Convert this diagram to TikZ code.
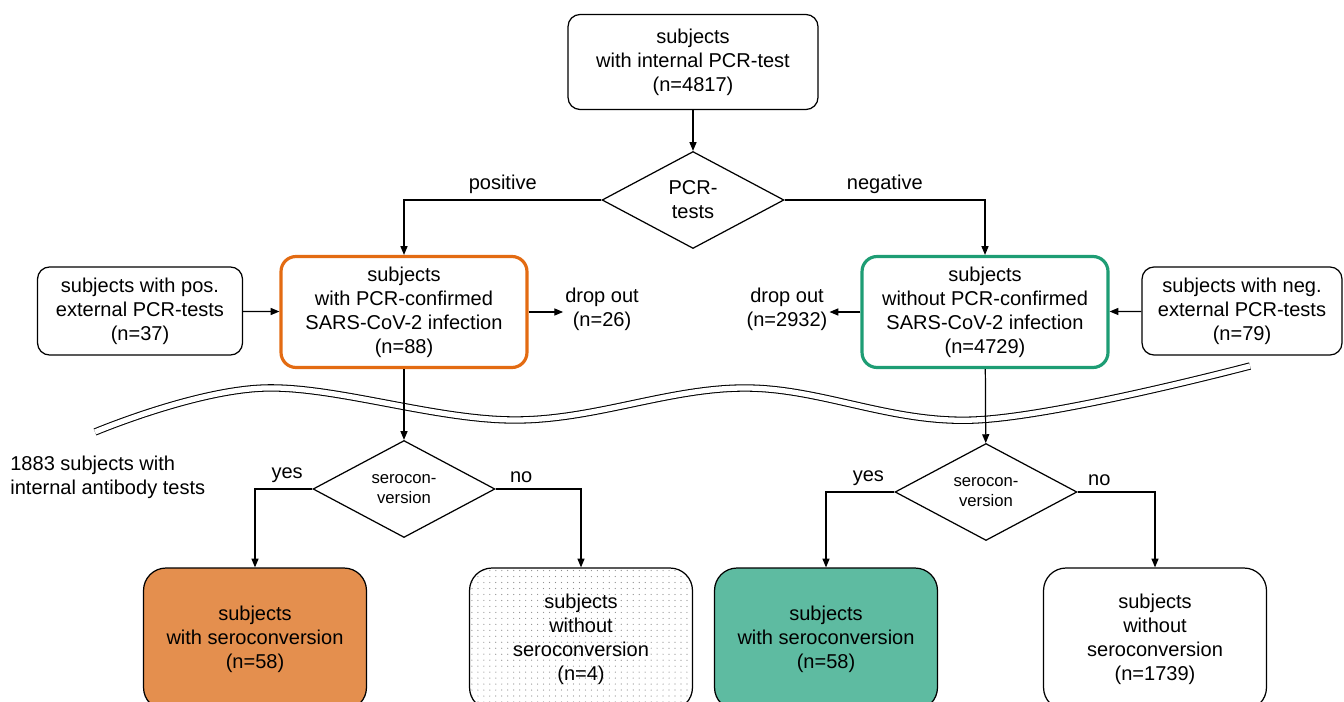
\documentclass[tikz,border=0pt]{standalone}
\usepackage{fontspec}
\setmainfont{Liberation Sans}
\usetikzlibrary{shapes.geometric,arrows.meta,patterns.meta}

\definecolor{orgline}{RGB}{227,107,18}
\definecolor{orgfill}{RGB}{228,143,78}
\definecolor{grnline}{RGB}{30,157,116}
\definecolor{grnfill}{RGB}{94,187,161}

\tikzdeclarepattern{
  name=finedots,
  type=uncolored,
  bounding box={(-1.7pt,-1.7pt) and (1.7pt,1.7pt)},
  tile size={(3.4pt,3.4pt)},
  code={\pgfpathcircle{\pgfpointorigin}{0.35pt}\pgfusepath{fill}}
}

\begin{document}
\begin{tikzpicture}[x=0.02cm, y=-0.02cm,
    font=\fontsize{11.4}{13.7}\selectfont,
    box/.style={draw, align=center, rounded corners=0.24cm, line width=0.7pt, inner sep=0pt},
    cbox/.style={draw, align=center, rounded corners=0.3cm, line width=1.8pt, inner sep=0pt, minimum width=4.92cm, minimum height=2.22cm},
    bbox/.style={draw, align=center, rounded corners=0.45cm, line width=0.7pt, inner sep=0pt, minimum width=4.46cm, minimum height=2.84cm},
    dnode/.style={draw, diamond, align=center, line width=0.7pt, inner sep=0pt, minimum width=3.64cm, minimum height=1.94cm},
    lbl/.style={above},
    arr/.style={-{Triangle[length=5pt,width=4pt]}, line width=0.7pt}]
    \clip (0,0) rectangle (1344,702);

    \node[box, minimum width=5cm, minimum height=1.9cm] (top) at (693,62) {subjects\\with internal PCR-test\\(n=4817)};
    \node[dnode] (pcr) at (693,200) {PCR-\\tests};
    \node[cbox, draw=orgline] (conf) at (404,312) {subjects\\with PCR-confirmed\\SARS-CoV-2 infection\\(n=88)};
    \node[cbox, draw=grnline] (noconf) at (985,312) {subjects\\without PCR-confirmed\\SARS-CoV-2 infection\\(n=4729)};
    \node[box, minimum width=4.1cm, minimum height=1.76cm] (pos) at (140,311) {subjects with pos.\\external PCR-tests\\(n=37)};
    \node[box, minimum width=4cm, minimum height=1.76cm] (neg) at (1242,311) {subjects with neg.\\external PCR-tests\\(n=79)};
    \node[align=center, inner sep=1pt] (drop1) at (602,309) {drop out\\(n=26)};
    \node[align=center, inner sep=1pt] (drop2) at (787,309) {drop out\\(n=2932)};

    \node[anchor=west, align=left, inner sep=0pt] (ab) at (10,477) {1883 subjects with\\internal antibody tests};

    \node[dnode, font=\fontsize{9.5}{11.6}\selectfont] (serL) at (404,489) {serocon-\\version};
    \node[dnode, font=\fontsize{9.5}{11.6}\selectfont] (serR) at (986,492) {serocon-\\version};

    \node[bbox, fill=orgfill] (o1) at (255,639) {subjects\\with seroconversion\\(n=58)};
    \node[bbox, pattern=finedots, pattern color=black!45] (o2) at (581,639) {subjects\\without\\seroconversion\\(n=4)};
    \node[bbox, fill=grnfill] (g1) at (826,639) {subjects\\with seroconversion\\(n=58)};
    \node[bbox] (g2) at (1155,639) {subjects\\without\\seroconversion\\(n=1739)};

    % break between PCR and antibody part
    \draw[line width=0.6pt, double, double distance=3pt] plot[smooth, tension=0.6] coordinates {(95,432) (265,388) (515,420) (745,388) (975,420) (1250,366)};

    \draw[arr] (top) -- (pcr);
    \draw[arr] (pcr.west) -| node[lbl, pos=0.25] {positive} (conf.north);
    \draw[arr] (pcr.east) -| node[lbl, pos=0.25] {negative} (noconf.north);
    \draw[arr] (pos) -- (conf);
    \draw[arr] (neg) -- (noconf);
    \draw[arr] (conf.east) -- (conf.east -| drop1.west);
    \draw[arr] (noconf.west) -- (noconf.west -| drop2.east);
    \draw[arr] (conf) -- (serL);
    \draw[arr] (noconf) -- (serR);
    \draw[arr] (serL.west) -| node[lbl, pos=0.22] {yes} (o1.north);
    \draw[arr] (serL.east) -| node[lbl, pos=0.15] {no} (o2.north);
    \draw[arr] (serR.west) -| node[lbl, pos=0.19] {yes} (g1.north);
    \draw[arr] (serR.east) -| node[lbl, pos=0.14] {no} (g2.north);
\end{tikzpicture}
\end{document}
